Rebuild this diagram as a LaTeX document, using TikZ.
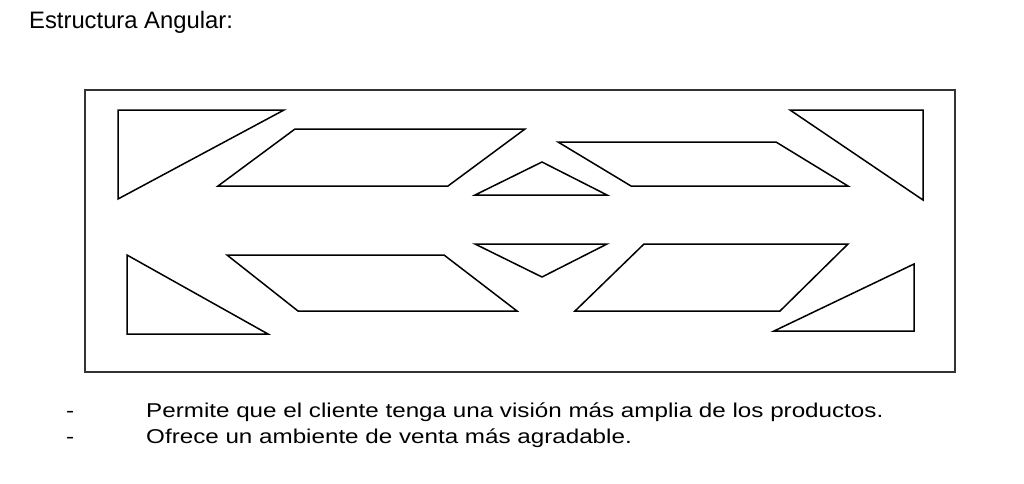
\documentclass[tikz,border=0pt]{standalone}
\usepackage{fontspec}
\setmainfont{Liberation Sans}
\tikzset{
  frame/.style={draw=black!80, line width=1.8pt},
  piece/.style={draw=black, line width=1.5pt, line join=miter},
  title/.style={anchor=base west, inner sep=0pt, font=\fontsize{23.8}{28}\selectfont},
  bullet/.style={anchor=base west, inner sep=0pt, font=\fontsize{20}{24}\selectfont},
}
\begin{document}
\begin{tikzpicture}[x=1pt,y=-1pt]
\useasboundingbox (0,0) rectangle (1024,483);
\fill[white] (0,0) rectangle (1024,483);
% title
\node[title] (title) at (29,28) {Estructura Angular:};
% frame
\draw[frame] (85,90) rectangle (955,372);
% top row
\draw[piece] (118,110) -- (284,110) -- (118,199) -- cycle;
\draw[piece] (295,129) -- (525,129) -- (448,186) -- (218,186) -- cycle;
\draw[piece] (542,162) -- (607,195) -- (475,195) -- cycle;
\draw[piece] (558,142) -- (776,142) -- (848,186) -- (631,186) -- cycle;
\draw[piece] (790,110) -- (923,110) -- (923,200) -- cycle;
% bottom row
\draw[piece] (127,255) -- (268,334) -- (127,334) -- cycle;
\draw[piece] (227,255) -- (444,255) -- (517,311) -- (298,311) -- cycle;
\draw[piece] (475,244) -- (607,244) -- (542,277) -- cycle;
\draw[piece] (644,244) -- (848,244) -- (780,311) -- (575,311) -- cycle;
\draw[piece] (914,264) -- (914,331) -- (774,331) -- cycle;
% bullets
\node[bullet] (d1) at (66,417) {\scalebox{1.21}[1]{-}};
\node[bullet] (t1) at (146,417) {\scalebox{1.21}[1]{Permite que el cliente tenga una visión más amplia de los productos.}};
\node[bullet] (d2) at (66,443) {\scalebox{1.21}[1]{-}};
\node[bullet] (t2) at (146,443) {\scalebox{1.21}[1]{Ofrece un ambiente de venta más agradable.}};
\end{tikzpicture}
\end{document}
